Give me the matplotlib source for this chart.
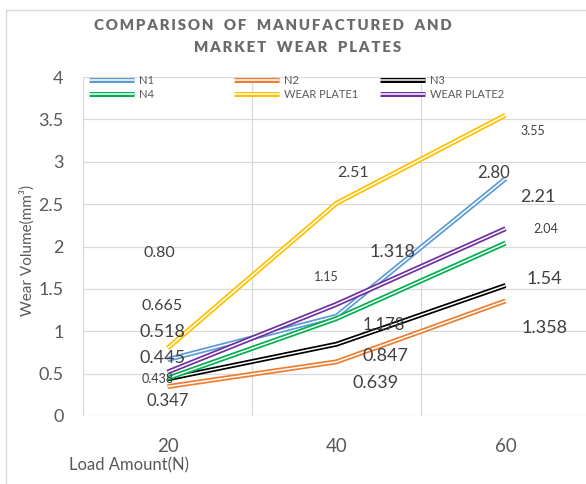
import matplotlib.pyplot as plt
from matplotlib.lines import Line2D

# Wear volume (mm^3) at each load, kept as the printed strings so the
# lines and their value labels come from the same numbers
loads = ['20', '40', '60']
n1_text = ['0.665', '1.178', '2.80']
n2_text = ['0.347', '0.639', '1.358']
n3_text = ['0.438', '0.847', '1.54']
n4_text = ['0.445', '1.15', '2.04']
plate1_text = ['0.80', '2.51', '3.55']
plate2_text = ['0.518', '1.318', '2.21']

series_names = ['N1', 'N2', 'N3', 'N4', 'WEAR PLATE1', 'WEAR PLATE2']
series_text = [n1_text, n2_text, n3_text, n4_text, plate1_text, plate2_text]
colors = ['#5B9BD5', '#ED7D31', '#000000', '#00B050', '#FFC000', '#7030A0']

# where each value label sits (x in category units, y in data units, font size)
label_pos = {
    ('WEAR PLATE1', 0): (-0.05, 1.92, 11.5),
    ('N1', 0): (-0.03, 1.30, 11.5),
    ('WEAR PLATE2', 0): (-0.03, 0.99, 13),
    ('N4', 0): (-0.03, 0.68, 13),
    ('N3', 0): (-0.06, 0.44, 9),
    ('N2', 0): (0.0, 0.18, 12),
    ('WEAR PLATE1', 1): (1.10, 2.87, 11.5),
    ('N4', 1): (0.94, 1.64, 9),
    ('WEAR PLATE2', 1): (1.33, 1.93, 13),
    ('N1', 1): (1.28, 1.07, 12),
    ('N3', 1): (1.29, 0.71, 13),
    ('N2', 1): (1.23, 0.39, 13),
    ('WEAR PLATE1', 2): (2.16, 3.36, 9),
    ('N1', 2): (1.93, 2.87, 12),
    ('WEAR PLATE2', 2): (2.19, 2.58, 13),
    ('N4', 2): (2.24, 2.21, 9),
    ('N3', 2): (2.23, 1.62, 13),
    ('N2', 2): (2.23, 1.04, 13),
}

plt.rcParams['font.family'] = ['Lato', 'DejaVu Sans']
W, H = 586, 484
fig = plt.figure(figsize=(W / 100, H / 100), dpi=100)


def fx(px):
    return px / W


def fy(py):
    return 1 - py / H


ax = fig.add_axes([fx(83), fy(416), fx(507), 339 / H])
x = list(range(len(loads)))


def double_line(xs, ys, color, transform=None, z=2):
    # two thin strands with a white gap, like a compound "double" stroke
    kw = {} if transform is None else {'transform': transform}
    outer = Line2D(xs, ys, color=color, lw=3.6, zorder=z, solid_capstyle='butt', **kw)
    inner = Line2D(xs, ys, color='white', lw=1.1, zorder=z + 0.01, solid_capstyle='butt', **kw)
    return outer, inner


for i, (name, txt, c) in enumerate(zip(series_names, series_text, colors)):
    vals = [float(v) for v in txt]
    o, inn = double_line(x, vals, c, z=2 + i * 0.1)
    ax.add_line(o)
    ax.add_line(inn)
    for j, t in enumerate(txt):
        lx, ly, size = label_pos[(name, j)]
        ax.text(lx, ly, t, fontsize=size, color='#404040', ha='center', va='center', zorder=5)

ax.set_xlim(-0.5, 2.5)
ax.set_ylim(0, 4)
ax.set_yticks([0, 0.5, 1, 1.5, 2, 2.5, 3, 3.5, 4])
ax.set_yticklabels(['0', '0.5', '1', '1.5', '2', '2.5', '3', '3.5', '4'])
ax.set_xticks(x)
ax.set_xticklabels(loads)
ax.set_xticks([-0.5, 0.5, 1.5, 2.5], minor=True)
ax.tick_params(axis='y', length=0, pad=14, labelsize=13, labelcolor='#595959')
ax.tick_params(axis='x', which='major', length=0, pad=16, labelsize=13.5, labelcolor='#595959')
ax.tick_params(axis='x', which='minor', length=0)
ax.grid(axis='y', which='major', color='#D9D9D9', lw=0.9)
ax.grid(axis='x', which='minor', color='#D9D9D9', lw=0.9)
for s in ax.spines.values():
    s.set_visible(False)

# axis titles
fig.text(fx(27), fy(250), 'Wear Volume(mm\u00b3)', rotation=90, fontsize=11,
         color='#595959', ha='center', va='center')
fig.text(fx(129), fy(465), 'Load Amount(N)', fontsize=12, color='#595959',
         ha='center', va='center')


# letter-spaced title
def spaced(s):
    return '   '.join('\u2009'.join(w) for w in s.split(' '))


fig.text(fx(273), fy(25), spaced('COMPARISON OF MANUFACTURED AND'), fontsize=10.8,
         fontweight='heavy', color='#6E6A6A', ha='center', va='center')
fig.text(fx(298), fy(48), spaced('MARKET WEAR PLATES'), fontsize=10.8,
         fontweight='heavy', color='#6E6A6A', ha='center', va='center')

# legend: three columns, two rows
legend_cols = [89, 234, 380]
legend_rows = [80, 94]
order = [['N1', 'N2', 'N3'], ['N4', 'WEAR PLATE1', 'WEAR PLATE2']]
for r, row in enumerate(order):
    for cidx, name in enumerate(row):
        c = colors[series_names.index(name)]
        x0 = legend_cols[cidx]
        o, inn = double_line([fx(x0), fx(x0 + 45)], [fy(legend_rows[r])] * 2, c,
                             transform=fig.transFigure, z=6)
        fig.add_artist(o)
        fig.add_artist(inn)
        fig.text(fx(x0 + 50), fy(legend_rows[r]), name, fontsize=8, color='#595959',
                 ha='left', va='center')

# chart area border
fig.add_artist(Line2D([fx(6), fx(6)], [0, fy(10)], color='#D9D9D9', lw=1))
fig.add_artist(Line2D([fx(6), 1], [fy(10), fy(10)], color='#D9D9D9', lw=1))

fig.savefig('out.png', dpi=100)
